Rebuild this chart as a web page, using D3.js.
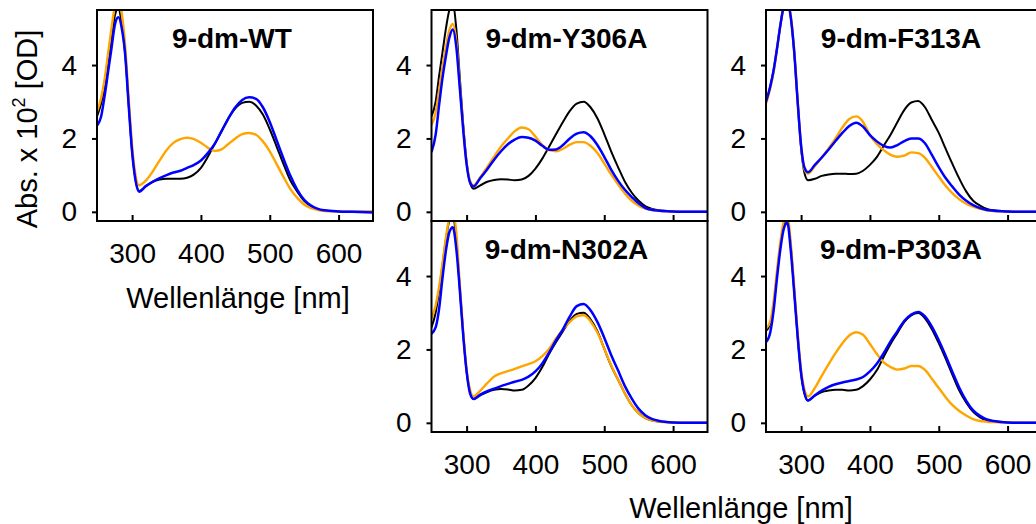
<!DOCTYPE html>
<html>
<head>
<meta charset="utf-8">
<script src="https://cdn.jsdelivr.net/npm/d3@7"></script>
<style>
  html, body { margin: 0; padding: 0; background: #fff; }
  svg { display: block; font-family: "Liberation Sans", Arial, Helvetica, sans-serif; }
</style>
</head>
<body>
<svg id="chart" width="1036" height="524"></svg>
<script>
// Wavelength grid (nm) shared by every spectrum
const wavelengths = [249, 255, 260, 265, 270, 275, 280, 285, 290, 295, 300, 305, 310,
  320, 330, 340, 350, 360, 370, 380, 390, 400, 410, 420, 430, 440, 450, 460, 470, 480,
  490, 500, 510, 520, 530, 540, 550, 560, 570, 580, 600, 620, 650];

// Absorbance x 10^2 [OD]; black / orange / blue trace per variant
const wtBlack  = [2.6, 2.95, 3.4, 4.0, 4.7, 5.35, 5.55, 5.1, 4.3, 2.95, 1.65, 0.9, 0.57,
  0.7, 0.82, 0.88, 0.9, 0.9, 0.9, 0.93, 1.02, 1.2, 1.5, 1.85, 2.2, 2.55, 2.82, 2.97, 3.0, 2.9,
  2.65, 2.25, 1.78, 1.3, 0.85, 0.55, 0.3, 0.15, 0.07, 0.03, 0.01, 0.0, 0.0];
const wtOrange = [2.73, 3.1, 3.6, 4.3, 5.0, 5.6, 5.8, 5.4, 4.5, 3.1, 1.8, 1.0, 0.72,
  0.85, 1.1, 1.4, 1.68, 1.88, 1.98, 2.02, 1.98, 1.88, 1.75, 1.66, 1.7, 1.85, 2.0, 2.12, 2.15, 2.1,
  1.92, 1.65, 1.3, 0.95, 0.62, 0.38, 0.2, 0.1, 0.05, 0.02, 0.01, 0.0, 0.01];
const wtBlue   = [2.35, 2.6, 3.15, 3.8, 4.45, 5.1, 5.3, 5.0, 4.27, 2.91, 1.64, 0.85, 0.55,
  0.7, 0.82, 0.92, 1.0, 1.07, 1.12, 1.2, 1.28, 1.4, 1.6, 1.85, 2.2, 2.55, 2.85, 3.05, 3.12, 3.08,
  2.85, 2.45, 1.95, 1.45, 0.98, 0.6, 0.33, 0.17, 0.08, 0.04, 0.01, 0.0, -0.02];

const y306aBlack  = [2.6, 3.0, 3.7, 4.35, 5.0, 5.5, 5.65, 5.0, 3.7, 2.4, 1.35, 0.8, 0.63,
  0.72, 0.82, 0.87, 0.89, 0.88, 0.86, 0.88, 0.98, 1.18, 1.45, 1.78, 2.12, 2.45, 2.75, 2.95, 3.0, 2.85,
  2.55, 2.12, 1.65, 1.22, 0.82, 0.52, 0.3, 0.15, 0.08, 0.04, 0.01, 0.0, 0.0];
const y306aOrange = [2.37, 2.7, 3.3, 3.95, 4.5, 4.95, 5.12, 4.65, 3.5, 2.3, 1.35, 0.85, 0.72,
  0.95, 1.22, 1.5, 1.78, 2.0, 2.2, 2.3, 2.25, 2.05, 1.82, 1.68, 1.65, 1.72, 1.83, 1.9, 1.9, 1.8,
  1.6, 1.32, 1.02, 0.75, 0.5, 0.3, 0.17, 0.09, 0.05, 0.03, 0.01, 0.0, 0.0];
const y306aBlue   = [1.63, 2.1, 2.9, 3.65, 4.25, 4.75, 4.97, 4.5, 3.4, 2.25, 1.3, 0.8, 0.69,
  0.92, 1.16, 1.42, 1.65, 1.84, 1.97, 2.04, 2.02, 1.94, 1.8, 1.69, 1.7, 1.82, 2.0, 2.13, 2.17, 2.06,
  1.82, 1.5, 1.15, 0.85, 0.6, 0.4, 0.23, 0.1, 0.05, 0.03, 0.01, 0.0, 0.0];

const f313aBlack  = [3.0, 3.4, 3.85, 4.45, 5.1, 5.6, 5.7, 5.3, 4.35, 3.0, 1.75, 1.05, 0.86,
  0.9, 0.98, 1.02, 1.04, 1.04, 1.03, 1.04, 1.12, 1.28, 1.49, 1.8, 2.1, 2.45, 2.78, 2.98, 3.02, 2.85,
  2.5, 2.15, 1.72, 1.3, 0.9, 0.55, 0.3, 0.17, 0.08, 0.04, 0.01, 0.0, 0.0];
const f313aOrange = [2.95, 3.35, 3.8, 4.45, 5.1, 5.6, 5.75, 5.35, 4.4, 3.0, 1.8, 1.15, 1.04,
  1.25, 1.47, 1.73, 2.0, 2.3, 2.53, 2.6, 2.45, 2.09, 1.85, 1.68, 1.55, 1.5, 1.53, 1.62, 1.6, 1.47,
  1.22, 0.96, 0.71, 0.5, 0.34, 0.22, 0.14, 0.08, 0.04, 0.02, 0.01, 0.0, 0.0];
const f313aBlue   = [3.0, 3.4, 3.85, 4.45, 5.1, 5.6, 5.7, 5.3, 4.35, 3.0, 1.8, 1.2, 1.08,
  1.28, 1.48, 1.7, 1.93, 2.15, 2.34, 2.43, 2.32, 2.09, 1.92, 1.8, 1.75, 1.82, 1.93, 2.0, 2.0, 1.87,
  1.55, 1.22, 0.92, 0.68, 0.46, 0.3, 0.18, 0.1, 0.05, 0.03, 0.01, 0.0, 0.0];

const n302aBlack  = [2.6, 3.0, 3.6, 4.3, 5.0, 5.5, 5.6, 5.0, 3.7, 2.45, 1.4, 0.85, 0.65,
  0.75, 0.84, 0.9, 0.92, 0.91, 0.88, 0.9, 1.02, 1.22, 1.52, 1.88, 2.2, 2.5, 2.78, 2.97, 3.0, 2.82,
  2.5, 2.02, 1.55, 1.18, 0.8, 0.48, 0.26, 0.13, 0.06, 0.03, 0.01, 0.0, 0.0];
const n302aOrange = [2.84, 3.2, 3.7, 4.35, 5.05, 5.6, 5.75, 5.2, 3.8, 2.5, 1.45, 0.9, 0.72,
  0.88, 1.08, 1.26, 1.35, 1.41, 1.47, 1.54, 1.6, 1.68, 1.82, 2.02, 2.3, 2.55, 2.75, 2.9, 2.93, 2.77,
  2.46, 2.02, 1.57, 1.18, 0.8, 0.48, 0.26, 0.13, 0.06, 0.03, 0.01, 0.0, 0.0];
const n302aBlue   = [2.43, 2.6, 3.1, 3.95, 4.7, 5.2, 5.33, 4.75, 3.65, 2.4, 1.4, 0.8, 0.65,
  0.77, 0.86, 0.93, 1.0, 1.06, 1.12, 1.17, 1.26, 1.4, 1.62, 1.92, 2.25, 2.55, 2.9, 3.18, 3.24, 3.07,
  2.75, 2.32, 1.85, 1.43, 1.0, 0.66, 0.38, 0.2, 0.1, 0.05, 0.01, 0.0, 0.0];

const p303aBlack  = [2.5, 2.7, 3.2, 4.05, 4.85, 5.4, 5.55, 4.8, 3.6, 2.35, 1.35, 0.8, 0.61,
  0.74, 0.84, 0.88, 0.9, 0.9, 0.88, 0.9, 1.0, 1.18, 1.43, 1.8, 2.15, 2.45, 2.75, 2.93, 2.99, 2.85,
  2.55, 2.17, 1.75, 1.3, 0.87, 0.55, 0.3, 0.15, 0.07, 0.04, 0.01, 0.0, 0.0];
const p303aOrange = [2.57, 2.75, 3.3, 4.15, 4.95, 5.5, 5.65, 4.9, 3.7, 2.45, 1.45, 0.9, 0.72,
  0.95, 1.28, 1.6, 1.9, 2.17, 2.38, 2.47, 2.4, 2.15, 1.88, 1.65, 1.52, 1.45, 1.48, 1.55, 1.55, 1.44,
  1.2, 0.95, 0.7, 0.48, 0.32, 0.2, 0.1, 0.05, 0.03, 0.02, 0.01, 0.0, 0.0];
const p303aBlue   = [2.2, 2.45, 3.05, 3.95, 4.75, 5.3, 5.45, 4.7, 3.55, 2.35, 1.35, 0.8, 0.61,
  0.75, 0.88, 0.98, 1.05, 1.1, 1.14, 1.18, 1.25, 1.4, 1.61, 1.9, 2.22, 2.5, 2.78, 2.95, 3.02, 2.9,
  2.62, 2.25, 1.83, 1.38, 0.95, 0.6, 0.34, 0.19, 0.09, 0.05, 0.01, 0.0, 0.0];

const panelTitles = ["9-dm-WT", "9-dm-Y306A", "9-dm-F313A", "9-dm-N302A", "9-dm-P303A"];
const yTicks = [0, 2, 4];
const xTicks = [300, 400, 500, 600];
const xTitle = "Wellenlänge [nm]";

// ---- layout ----
const W = 276, H = 211;
const cols = [97, 431.5, 766];
const rows = [10, 221];
const seriesColors = ["#000000", "#FFA500", "#0000FF"];
const seriesWidths = [2.0, 2.4, 2.5];

const panels = [
  { title: panelTitles[0], data: [wtBlack, wtOrange, wtBlue],          x: cols[0], y: rows[0], xLabels: true },
  { title: panelTitles[1], data: [y306aBlack, y306aOrange, y306aBlue], x: cols[1], y: rows[0], xLabels: false },
  { title: panelTitles[2], data: [f313aBlack, f313aOrange, f313aBlue], x: cols[2], y: rows[0], xLabels: false },
  { title: panelTitles[3], data: [n302aBlack, n302aOrange, n302aBlue], x: cols[1], y: rows[1], xLabels: true },
  { title: panelTitles[4], data: [p303aBlack, p303aOrange, p303aBlue], x: cols[2], y: rows[1], xLabels: true }
];

const xScale = d3.scaleLinear().domain([249, 650]).range([0, W]);
const yScale = d3.scaleLinear().domain([-0.25, 5.5]).range([H, 0]);

const line = d3.line()
  .x(d => xScale(d[0]))
  .y(d => yScale(d[1]))
  .curve(d3.curveMonotoneX);

const svg = d3.select("#chart");
svg.append("rect").attr("width", 1036).attr("height", 524).attr("fill", "#fff");

panels.forEach((p, i) => {
  const g = svg.append("g").attr("transform", `translate(${p.x},${p.y})`);
  const clipId = "clip" + i;
  g.append("clipPath").attr("id", clipId)
    .append("rect").attr("width", W).attr("height", H);

  const plot = g.append("g").attr("clip-path", `url(#${clipId})`);
  p.data.forEach((vals, k) => {
    const pts = wavelengths.map((w, j) => [w, vals[j]]);
    plot.append("path")
      .datum(pts)
      .attr("d", line)
      .attr("fill", "none")
      .attr("stroke", seriesColors[k])
      .attr("stroke-width", seriesWidths[k])
      .attr("stroke-linejoin", "round");
  });

  // y axis: outward ticks
  const yAxis = g.append("g")
    .call(d3.axisLeft(yScale).tickValues(yTicks).tickSize(5).tickPadding(15).tickFormat(d3.format("d")));
  yAxis.select(".domain").remove();
  yAxis.selectAll("line").attr("stroke", "#000").attr("stroke-width", 2);
  yAxis.selectAll("text").attr("font-size", 28).attr("fill", "#000")
    .attr("font-family", "Liberation Sans, Arial, sans-serif");

  // x axis: inward ticks
  const xAxis = g.append("g").attr("transform", `translate(0,${H})`)
    .call(d3.axisBottom(xScale).tickValues(xTicks).tickSizeInner(-6).tickSizeOuter(0)
      .tickPadding(22).tickFormat(p.xLabels ? d3.format("d") : () => ""));
  xAxis.select(".domain").remove();
  xAxis.selectAll("line").attr("stroke", "#000").attr("stroke-width", 2);
  xAxis.selectAll("text").attr("font-size", 28).attr("fill", "#000")
    .attr("font-family", "Liberation Sans, Arial, sans-serif");

  // frame
  g.append("rect").attr("width", W).attr("height", H)
    .attr("fill", "none").attr("stroke", "#000").attr("stroke-width", 2);

  // panel title
  g.append("text")
    .attr("x", W / 2 - 3).attr("y", 38)
    .attr("text-anchor", "middle")
    .attr("font-size", 28).attr("font-weight", "bold")
    .text(p.title);
});

// axis titles
svg.append("text").attr("x", 238).attr("y", 308).attr("text-anchor", "middle")
  .attr("font-size", 29).text(xTitle);
svg.append("text").attr("x", 741).attr("y", 518).attr("text-anchor", "middle")
  .attr("font-size", 29).text(xTitle);

const yTitle = svg.append("text")
  .attr("transform", "translate(37,129) rotate(-90)")
  .attr("text-anchor", "middle")
  .attr("font-size", 29);
yTitle.append("tspan").text("Abs. x 10");
yTitle.append("tspan").attr("font-size", 18).attr("dy", -12).text("2");
yTitle.append("tspan").attr("dy", 12).text(" [OD]");
</script>
</body>
</html>
